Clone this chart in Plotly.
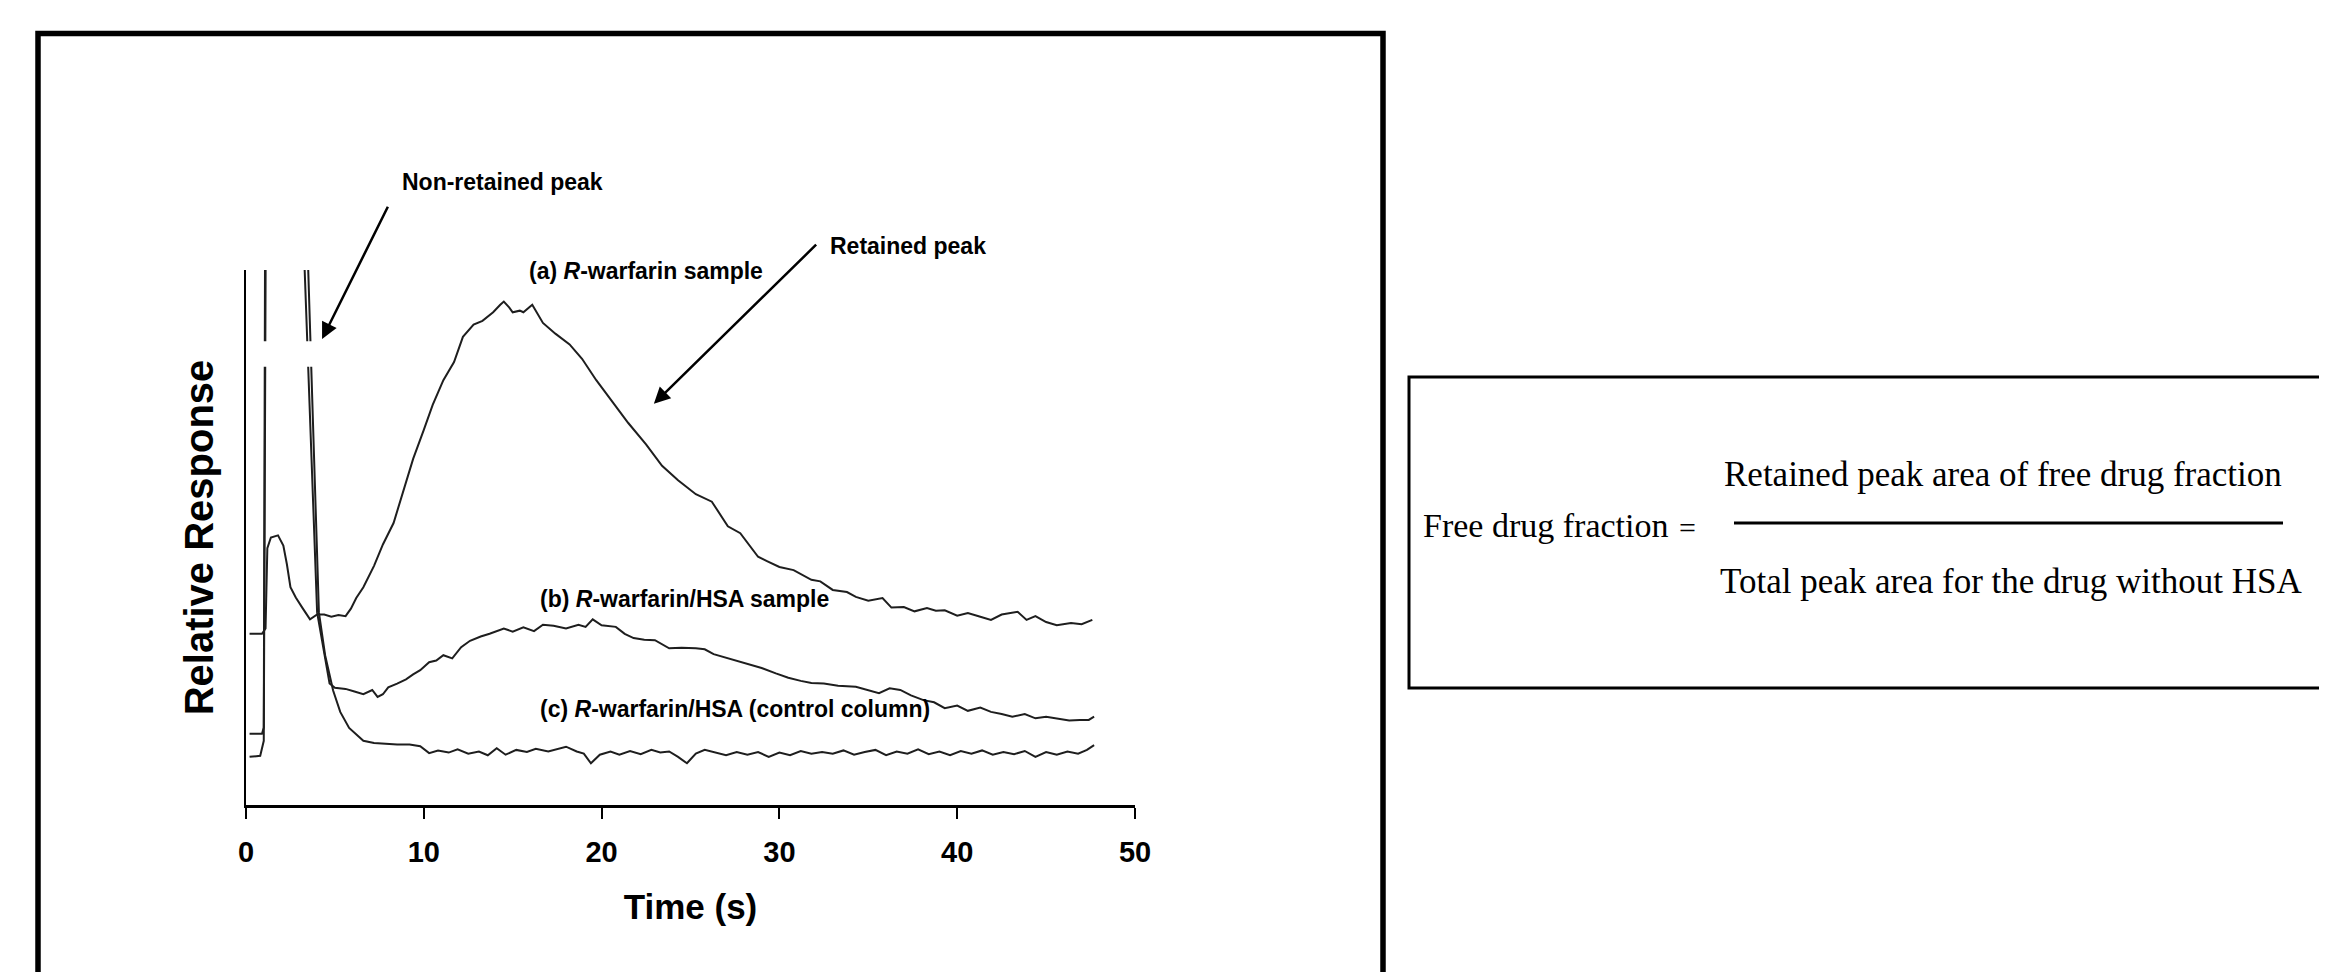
import plotly.graph_objects as go

# ---------------- data (time in s, relative response in arbitrary units; 100 = top of axis) ----------------
time_a = [0.2, 0.9, 1.1, 1.2, 1.4, 1.8, 2.1, 2.3, 2.5, 2.8, 3.2, 3.6, 4.0, 4.4, 4.8, 5.2, 5.6, 5.9,
          6.2, 6.6, 7.2, 7.7, 8.3, 8.8, 9.4, 10.0, 10.5, 11.1, 11.7, 12.2, 12.8, 13.3, 13.9, 14.3,
          14.5, 14.8, 15.0, 15.4, 15.6, 16.1, 16.7, 17.4, 18.2, 18.9, 19.7, 20.6, 21.5, 22.5, 23.4,
          24.3, 25.3, 26.2, 27.1, 27.8, 28.8, 29.3, 30.0, 30.8, 31.8, 32.3, 33.0, 33.8, 34.3, 35.0,
          35.8, 36.3, 37.0, 37.6, 38.3, 38.8, 39.3, 40.0, 40.6, 41.3, 41.9, 42.5, 43.4, 43.9, 44.4,
          45.0, 45.6, 46.4, 47.0, 47.6]
resp_a = [32.0, 32.0, 33.0, 48.0, 50.0, 50.4, 48.5, 45.0, 40.7, 38.8, 36.7, 34.7, 35.6, 35.6, 35.2,
          35.5, 35.3, 36.7, 38.7, 40.7, 44.7, 48.7, 52.7, 58.1, 64.7, 70.1, 74.8, 79.4, 82.8, 87.5,
          89.8, 90.5, 92.1, 93.5, 94.1, 93.0, 92.1, 92.4, 92.1, 93.5, 90.1, 88.1, 86.1, 83.4, 79.4,
          75.4, 71.4, 67.4, 63.4, 60.7, 58.1, 56.7, 52.1, 50.8, 46.4, 45.6, 44.5, 43.9, 42.1, 41.8,
          40.2, 39.8, 38.9, 38.2, 38.7, 36.9, 37.0, 36.2, 36.8, 36.3, 36.4, 35.4, 35.9, 35.2, 34.6,
          35.6, 36.1, 34.6, 35.3, 34.2, 33.6, 34.0, 33.8, 34.6]

time_b = [0.2, 0.9, 1.0, 1.1, 3.1, 3.3, 4.0, 4.4, 4.7, 5.0, 5.6, 6.1, 6.6, 7.1, 7.4, 7.7, 8.0, 8.5,
          9.0, 9.4, 9.8, 10.3, 10.7, 11.1, 11.6, 12.1, 12.6, 13.2, 13.7, 14.5, 15.0, 15.6, 16.2,
          16.7, 17.3, 18.0, 18.7, 19.1, 19.5, 20.0, 20.8, 21.3, 21.8, 22.4, 23.0, 23.8, 24.5, 25.3,
          25.8, 26.3, 26.8, 27.5, 28.3, 29.0, 29.8, 30.5, 31.2, 31.8, 32.5, 33.3, 34.3, 35.0, 35.6,
          36.2, 36.8, 37.4, 38.1, 38.7, 39.3, 40.0, 40.6, 41.3, 41.9, 42.5, 43.1, 43.8, 44.4, 45.0,
          45.6, 46.3, 46.9, 47.4, 47.7]
resp_b = [13.3, 13.3, 14.5, 140.0, 140.0, 100.0, 36.0, 28.0, 22.7, 21.9, 21.7, 21.2, 20.7, 21.5,
          20.2, 20.7, 22.0, 22.7, 23.5, 24.4, 25.2, 26.7, 27.0, 28.0, 27.4, 29.5, 30.7, 31.5, 32.0,
          33.0, 32.4, 33.2, 32.5, 33.7, 33.5, 33.0, 33.7, 33.3, 34.7, 33.6, 33.3, 32.0, 31.2, 30.9,
          30.8, 29.3, 29.4, 29.3, 29.1, 28.2, 27.7, 27.0, 26.2, 25.6, 24.6, 23.8, 23.2, 22.8, 22.7,
          22.3, 22.1, 21.4, 20.9, 21.8, 21.5, 20.5, 19.6, 19.2, 18.1, 18.6, 17.6, 18.2, 17.4, 17.0,
          16.5, 17.0, 16.2, 16.5, 16.2, 15.8, 15.9, 15.9, 16.5]

time_c = [0.2, 0.8, 1.0, 1.15, 3.3, 3.5, 4.1, 4.45, 4.9, 5.3, 5.8, 6.6, 7.2, 7.8, 8.5, 9.2, 9.8,
          10.3, 10.8, 11.4, 11.9, 12.5, 13.1, 13.6, 14.1, 14.6, 15.2, 15.8, 16.3, 17.0, 17.5, 18.0,
          18.6, 19.0, 19.4, 19.9, 20.5, 21.0, 21.6, 22.2, 22.8, 23.3, 23.8, 24.3, 24.8, 25.3, 25.8,
          26.4, 27.0, 27.6, 28.2, 28.8, 29.4, 30.0, 30.6, 31.2, 31.8, 32.4, 33.0, 33.6, 34.2, 34.8,
          35.4, 36.0, 36.6, 37.2, 37.8, 38.4, 39.0, 39.6, 40.2, 40.8, 41.4, 42.0, 42.6, 43.2, 43.8,
          44.4, 45.0, 45.6, 46.2, 46.8, 47.3, 47.7]
resp_c = [9.0, 9.2, 12.0, 140.0, 140.0, 100.0, 36.0, 28.0, 21.4, 17.4, 14.4, 12.0, 11.6, 11.4, 11.3,
          11.3, 11.0, 9.7, 10.2, 9.8, 10.4, 9.6, 10.0, 9.3, 10.6, 9.4, 10.3, 9.9, 10.5, 10.0, 10.4,
          10.9, 10.0, 9.6, 7.8, 9.4, 10.0, 9.4, 10.1, 9.5, 10.3, 9.8, 10.0, 9.0, 7.8, 9.6, 10.3, 9.8,
          9.3, 9.9, 9.4, 9.9, 9.0, 9.8, 9.3, 10.1, 9.6, 9.9, 9.6, 10.2, 9.4, 9.9, 10.3, 9.3, 10.0,
          9.6, 10.4, 9.5, 10.0, 9.3, 10.1, 9.6, 10.2, 9.4, 9.9, 9.5, 10.1, 9.0, 9.9, 9.4, 10.0, 9.6,
          10.3, 11.2]

x_ticks = [0, 10, 20, 30, 40, 50]
x_range = [0, 50]
y_range = [0, 100]
break_time = [0.7, 3.9]      # axis-break gap across the off-scale peaks
break_resp = [81.9, 86.7]

x_title = "Time (s)"
y_title = "Relative Response"
label_a = "<b>(a) <i>R</i>-warfarin sample</b>"
label_b = "<b>(b) <i>R</i>-warfarin/HSA sample</b>"
label_c = "<b>(c) <i>R</i>-warfarin/HSA (control column)</b>"
label_nonret = "<b>Non-retained peak</b>"
label_ret = "<b>Retained peak</b>"
formula_lhs = "Free drug fraction"
formula_eq = "="
formula_num = "Retained peak area of free drug fraction"
formula_den = "Total peak area for the drug without HSA"

# ---------------- figure ----------------
W, H = 2327, 972
OFF = 8                                   # page body margin of the html page
PL, PR, PT, PB = 246, 1135, 270, 805      # plot area in window pixels
L, R, T, B = PL - OFF, W - (PR - OFF), PT - OFF, H - (PB - OFF)


def px(xp):
    return (xp - PL) / (PR - PL)


def py(yp):
    return (PB - yp) / (PB - PT)


SANS = "Liberation Sans, Arial, sans-serif"
SERIF = "Liberation Serif, Times New Roman, serif"
LINE = "#1e1e1e"

fig = go.Figure()
for tx, ry in [(time_a, resp_a), (time_b, resp_b), (time_c, resp_c)]:
    fig.add_trace(go.Scatter(x=tx, y=ry, mode="lines", line=dict(color=LINE, width=2),
                             showlegend=False, hoverinfo="skip"))

fig.update_layout(
    width=W, height=H,
    margin=dict(l=L, r=R, t=T, b=B, autoexpand=False),
    paper_bgcolor="white", plot_bgcolor="white",
    showlegend=False,
    xaxis=dict(range=x_range, tickvals=x_ticks, ticks="outside", ticklen=11, tickwidth=2,
               tickcolor="black", showline=True, linecolor="black", linewidth=3,
               showgrid=False, zeroline=False, ticklabelstandoff=8,
               tickfont=dict(family=SANS, size=29, color="black", weight="bold"),
               title=dict(text="<b>" + x_title + "</b>", standoff=28,
                          font=dict(family=SANS, size=35, color="black"))),
    yaxis=dict(range=y_range, showticklabels=False, ticks="", showline=True, linecolor="black",
               linewidth=2, showgrid=False, zeroline=False,
               title=dict(text="<b>" + y_title + "</b>", standoff=18,
                          font=dict(family=SANS, size=40, color="black"))),
)

shapes = [
    # axis-break gap
    dict(type="rect", xref="x", yref="y", x0=break_time[0], x1=break_time[1],
         y0=break_resp[0], y1=break_resp[1], fillcolor="white", line=dict(width=0), layer="above"),
    # outer frame around the chromatogram
    dict(type="rect", xref="paper", yref="paper", x0=px(38), x1=px(1383), y0=py(1010), y1=py(33.5),
         line=dict(color="black", width=5.5), fillcolor="rgba(0,0,0,0)"),
    # formula frame
    dict(type="rect", xref="paper", yref="paper", x0=px(1409), x1=px(2345), y0=py(688), y1=py(377),
         line=dict(color="black", width=3), fillcolor="rgba(0,0,0,0)"),
    # fraction bar
    dict(type="line", xref="paper", yref="paper", x0=px(1734), x1=px(2283), y0=py(523), y1=py(523),
         line=dict(color="black", width=3)),
]
fig.update_layout(shapes=shapes)

ann_font = dict(family=SANS, size=23, color="black")
annotations = [
    dict(x=15.8, y=99.8, xref="x", yref="y", text=label_a, showarrow=False, xanchor="left",
         yanchor="middle", font=ann_font),
    dict(x=16.4, y=38.5, xref="x", yref="y", text=label_b, showarrow=False, xanchor="left",
         yanchor="middle", font=ann_font),
    dict(x=16.4, y=17.9, xref="x", yref="y", text=label_c, showarrow=False, xanchor="left",
         yanchor="middle", font=ann_font),
    dict(x=px(400), y=py(182), xref="paper", yref="paper", text=label_nonret, showarrow=False,
         xanchor="left", yanchor="middle", font=ann_font),
    dict(x=px(828), y=py(246), xref="paper", yref="paper", text=label_ret, showarrow=False,
         xanchor="left", yanchor="middle", font=ann_font),
    # arrows
    dict(x=4.28, y=87.1, xref="x", yref="y", ax=8.02, ay=112.1, axref="x", ayref="y", text="",
         showarrow=True, arrowhead=2, arrowsize=1.3, arrowwidth=2.5, arrowcolor="black"),
    dict(x=22.94, y=75.0, xref="x", yref="y", ax=32.15, ay=105.0, axref="x", ayref="y", text="",
         showarrow=True, arrowhead=2, arrowsize=1.3, arrowwidth=2.5, arrowcolor="black"),
    # formula
    dict(x=px(1421), y=py(525), xref="paper", yref="paper", text=formula_lhs, showarrow=False,
         xanchor="left", yanchor="middle", font=dict(family=SERIF, size=34, color="black")),
    dict(x=px(1687), y=py(527), xref="paper", yref="paper", text=formula_eq, showarrow=False,
         xanchor="center", yanchor="middle", font=dict(family=SERIF, size=30, color="black")),
    dict(x=px(2003), y=py(474), xref="paper", yref="paper", text=formula_num, showarrow=False,
         xanchor="center", yanchor="middle", font=dict(family=SERIF, size=35, color="black")),
    dict(x=px(2011), y=py(581), xref="paper", yref="paper", text=formula_den, showarrow=False,
         xanchor="center", yanchor="middle", font=dict(family=SERIF, size=35, color="black")),
]
fig.update_layout(annotations=annotations)

fig.write_html("out.html")
